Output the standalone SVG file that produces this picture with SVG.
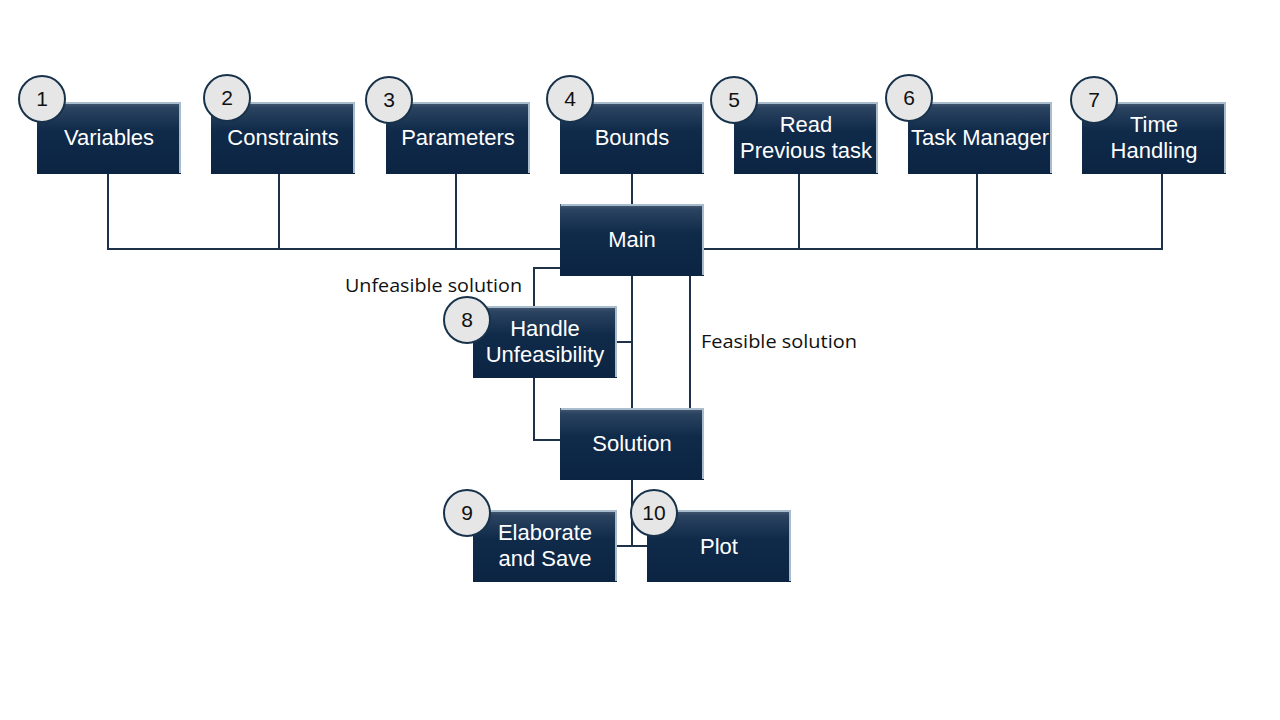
<svg xmlns="http://www.w3.org/2000/svg" width="1280" height="720" viewBox="0 0 1280 720">
<defs>
<linearGradient id="g" x1="0" y1="0" x2="0" y2="1">
<stop offset="0" stop-color="#4a5d72"/>
<stop offset="0.08" stop-color="#2a4360"/>
<stop offset="0.4" stop-color="#102a4a"/>
<stop offset="1" stop-color="#0b2442"/>
</linearGradient>
<style>
.box{fill:url(#g);}
.hl{fill:none;stroke:#a9bccd;stroke-width:2;}
.t{font-family:"Liberation Sans",Arial,sans-serif;font-size:22px;fill:#ffffff;text-anchor:middle;}
.c{fill:#e6e6e6;stroke:#17324a;stroke-width:2;}
.n{font-family:"Liberation Sans",Arial,sans-serif;font-size:21px;fill:#111;text-anchor:middle;}
.l{font-family:"Open Sans","Liberation Sans",Arial,sans-serif;font-size:17.5px;fill:#111;}
.w{fill:none;stroke:#1e3148;stroke-width:2;}
</style>
</defs>
<rect width="1280" height="720" fill="#ffffff"/>
<g id="connectors">
<path class="w" d="M108 174V249H560M704 249H1163M279 174V249M456 174V249M799 174V249M977 174V249M1162 174V249"/>
<path class="w" d="M632 174V204M632 276V408M560 268H534V306M534 378V440H560M617 342H632M690 268V408M632 480V546M617 546H647"/>
</g>
<g id="labels">
<text class="l" x="345" y="292" textLength="177" lengthAdjust="spacingAndGlyphs">Unfeasible solution</text>
<text class="l" x="701" y="348" textLength="156" lengthAdjust="spacingAndGlyphs">Feasible solution</text>
</g>
<g id="n1"><rect class="box" x="37" y="102" width="144" height="72"/><path class="hl" d="M38 103H180V173"/><text class="t" x="109" y="145">Variables</text><circle class="c" cx="42" cy="99" r="23"/><text class="n" x="42" y="106">1</text></g>
<g id="n2"><rect class="box" x="211" y="102" width="144" height="72"/><path class="hl" d="M212 103H354V173"/><text class="t" x="283" y="145">Constraints</text><circle class="c" cx="227" cy="98" r="23"/><text class="n" x="227" y="105">2</text></g>
<g id="n3"><rect class="box" x="386" y="102" width="144" height="72"/><path class="hl" d="M387 103H529V173"/><text class="t" x="458" y="145">Parameters</text><circle class="c" cx="389" cy="100" r="23"/><text class="n" x="389" y="107">3</text></g>
<g id="n4"><rect class="box" x="560" y="102" width="144" height="72"/><path class="hl" d="M561 103H703V173"/><text class="t" x="632" y="145">Bounds</text><circle class="c" cx="570" cy="99" r="23"/><text class="n" x="570" y="106">4</text></g>
<g id="n5"><rect class="box" x="734" y="102" width="144" height="72"/><path class="hl" d="M735 103H877V173"/><text class="t" x="806" y="132">Read<tspan x="806" dy="26">Previous task</tspan></text><circle class="c" cx="734" cy="100" r="23"/><text class="n" x="734" y="107">5</text></g>
<g id="n6"><rect class="box" x="908" y="102" width="144" height="72"/><path class="hl" d="M909 103H1051V173"/><text class="t" x="980" y="145">Task Manager</text><circle class="c" cx="909" cy="98" r="23"/><text class="n" x="909" y="105">6</text></g>
<g id="n7"><rect class="box" x="1082" y="102" width="144" height="72"/><path class="hl" d="M1083 103H1225V173"/><text class="t" x="1154" y="132">Time<tspan x="1154" dy="26">Handling</tspan></text><circle class="c" cx="1094" cy="100" r="23"/><text class="n" x="1094" y="107">7</text></g>
<g id="main"><rect class="box" x="560" y="204" width="144" height="72"/><path class="hl" d="M561 205H703V275"/><text class="t" x="632" y="247">Main</text></g>
<g id="n8"><rect class="box" x="473" y="306" width="144" height="72"/><path class="hl" d="M474 307H616V377"/><text class="t" x="545" y="336">Handle<tspan x="545" dy="26">Unfeasibility</tspan></text><circle class="c" cx="467" cy="320" r="23"/><text class="n" x="467" y="327">8</text></g>
<g id="solution"><rect class="box" x="560" y="408" width="144" height="72"/><path class="hl" d="M561 409H703V479"/><text class="t" x="632" y="451">Solution</text></g>
<g id="n9"><rect class="box" x="473" y="510" width="144" height="72"/><path class="hl" d="M474 511H616V581"/><text class="t" x="545" y="540">Elaborate<tspan x="545" dy="26">and Save</tspan></text><circle class="c" cx="467" cy="513" r="23"/><text class="n" x="467" y="520">9</text></g>
<g id="n10"><rect class="box" x="647" y="510" width="144" height="72"/><path class="hl" d="M648 511H790V581"/><text class="t" x="719" y="554">Plot</text><circle class="c" cx="654" cy="513" r="23"/><text class="n" x="654" y="520">10</text></g>
</svg>
